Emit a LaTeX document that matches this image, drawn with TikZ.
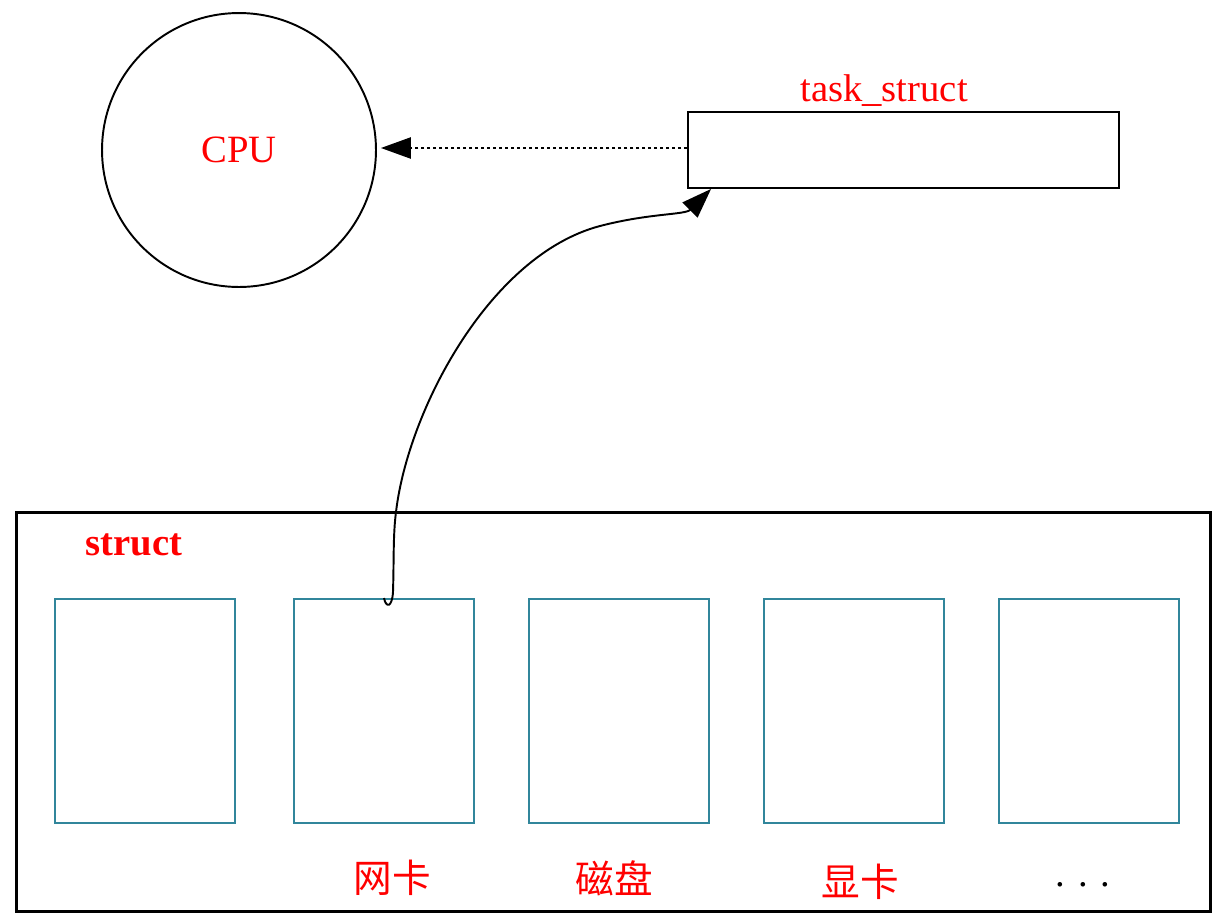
\documentclass[tikz,border=0pt]{standalone}
\usepackage{fontspec}
\setmainfont{Liberation Serif}
\newfontfamily\cjk{Noto Sans CJK SC}
\usetikzlibrary{arrows.meta}
\definecolor{boxteal}{RGB}{49,134,155}
\tikzset{
  redlabel/.style={text=red, inner sep=0pt, font=\fontsize{22}{26}\selectfont},
  cardbox/.style={draw=boxteal, line width=1.1pt, minimum width=3.6cm, minimum height=4.48cm, inner sep=0pt},
  bigtip/.style={-{Triangle[length=17pt, width=12pt]}}
}
\begin{document}
\begin{tikzpicture}[x=0.02cm, y=-0.02cm, line width=1.1pt]
  \useasboundingbox (0,0) rectangle (1228,920);

  % cpu and the task
  \node[draw, circle, minimum size=5.48cm, inner sep=0pt] (cpu) at (239,150) {};
  \node[redlabel] at (cpu.center) {CPU};
  \node[draw, minimum width=8.62cm, minimum height=1.52cm, inner sep=0pt] (task) at (903.5,150) {};
  \node[redlabel] at (884,91) {task\_struct};
  \draw[bigtip, dash pattern=on 1.7pt off 1.7pt, shorten >=0.08cm] ([yshift=0.04cm]task.west) -- ([yshift=0.04cm]cpu.east);

  % the struct and its parts
  \node[draw, line width=1.7pt, minimum width=23.9cm, minimum height=8cm, inner sep=0pt] (outer) at (613.5,712) {};
  \node[redlabel, font=\fontsize{22}{26}\selectfont\bfseries] at (134,545) {struct};
  \foreach \i/\xc in {1/145, 2/384, 3/619, 4/854, 5/1089} {
    \node[cardbox] (card\i) at (\xc,711) {};
  }
  \foreach \xl/\yl/\tl in {392/878/{网卡}, 614/878/{磁盘}, 860/882/{显卡}} {
    \node[redlabel, font=\fontsize{22}{26}\selectfont\cjk] at (\xl,\yl) {\tl};
  }
  \node[inner sep=0pt, font=\fontsize{22}{26}\selectfont] at (1083,885) {. . .};

  \coordinate (tip) at ([xshift=0.48cm]task.south west);
  \draw[bigtip] (card2.north) .. controls (386,608) and (392,608) .. (393,592)
    .. controls (394,560) and (393,535) .. (396,512)
    .. controls (408,410) and (490,255) .. (600,226)
    .. controls (650,213) and (685,215) .. (tip);
\end{tikzpicture}
\end{document}
